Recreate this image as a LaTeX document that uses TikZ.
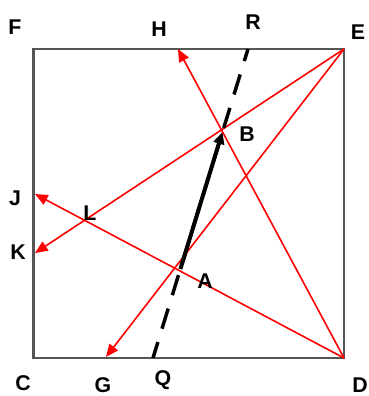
\documentclass[tikz,border=0pt]{standalone}
\usepackage{fontspec}
\setmainfont{Liberation Sans}
\usetikzlibrary{arrows.meta}
\begin{document}
\begin{tikzpicture}[x=0.75pt,y=-0.75pt,
  redline/.style={draw={rgb,255:red,255;green,0;blue,0},line width=1.2pt,
    -{Triangle[length=9.5pt,width=8pt]}},
  lbl/.style={font=\bfseries\fontsize{16}{16}\selectfont,inner sep=0pt,text=black},
  pt/.style={inner sep=0pt,minimum size=0pt}]
\useasboundingbox (0,0) rectangle (368,396);
% corners and points
\coordinate (C) at (33.5,358);
\coordinate (D) at (344,358);
\coordinate (E) at (344,49);
\coordinate (F) at (33.5,49);
\coordinate (H) at (178,49);
\coordinate (J) at (35,194);
\coordinate (K) at (35,253);
\coordinate (G) at (106,357);
\coordinate (Q) at (153,358);
\coordinate (R) at (248,49);
\coordinate (A) at (180.4,269);
\coordinate (B) at (222.4,132);
% square
\draw[draw={rgb,255:red,85;green,85;blue,85},line width=1.6pt] (C) -- (D) -- (E) -- (F) -- cycle;
% red lines
\draw[redline] (E) -- (K);
\draw[redline] (E) -- (G);
\draw[redline] (D) -- (J);
\draw[redline] (D) -- (H);
% dashed line
\draw[line width=2.6pt,dash pattern=on 15.75pt off 10.5pt,dash phase=6.3pt] (R) -- (Q);
% solid arrow
\draw[line width=3pt,-{Triangle[length=9pt,width=8pt]}] (A) -- (B);
% labels
\node[lbl] (lF) at (15,27) {F};
\node[lbl] (lH) at (159,29) {H};
\node[lbl] (lR) at (253,22) {R};
\node[lbl] (lE) at (358,32) {E};
\node[lbl] (lJ) at (15,198) {J};
\node[lbl] (lL) at (90,213) {L};
\node[lbl] (lK) at (18,252) {K};
\node[lbl] (lB) at (247,134) {B};
\node[lbl] (lA) at (205,281) {A};
\node[lbl] (lC) at (23,383) {C};
\node[lbl] (lG) at (103,385) {G};
\node[lbl] (lQ) at (163,380) {Q};
\node[lbl] (lD) at (360,385) {D};
\end{tikzpicture}
\end{document}
